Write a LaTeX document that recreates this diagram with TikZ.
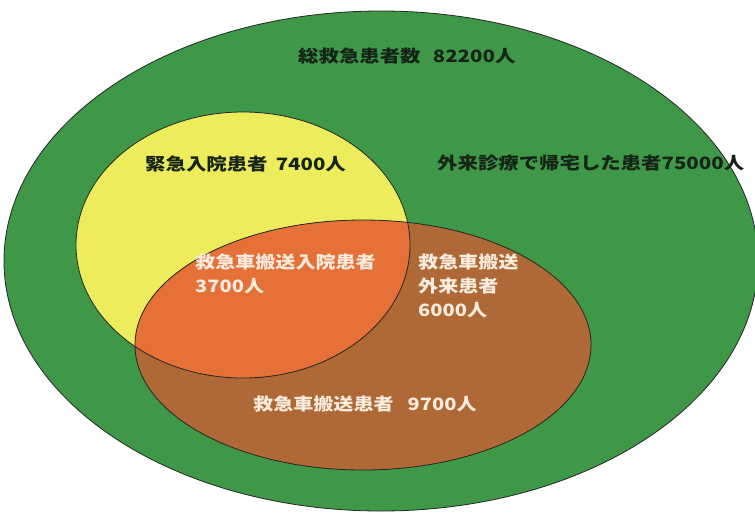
\documentclass[tikz,border=0pt]{standalone}
\usepackage{fontspec}
\newfontfamily\jp{Noto Sans CJK JP}
\definecolor{vgreen}{RGB}{62,152,72}
\definecolor{vyellow}{RGB}{236,236,92}
\definecolor{vbrown}{RGB}{174,105,54}
\definecolor{vorange}{RGB}{229,112,56}
\definecolor{darktext}{RGB}{22,36,24}
\definecolor{lighttext}{RGB}{250,236,222}
\begin{document}
\begin{tikzpicture}[x=1pt,y=-1pt,
  outline/.style={draw=black!85, line width=0.8pt},
  darklbl/.style={font=\jp\bfseries\fontsize{17}{24}\selectfont, text=darktext, inner sep=0pt, xscale=1.2},
  lightlbl/.style={font=\jp\bfseries\fontsize{17}{24}\selectfont, text=lighttext, inner sep=0pt, align=left, xscale=1.18}]
\useasboundingbox (0,0) rectangle (755,512);
\fill[white] (0,0) rectangle (755,512);
\coordinate (gc) at (381,261);
\coordinate (yc) at (243,245);
\coordinate (bc) at (363,345);
% fills
\fill[vgreen] (gc) ellipse [x radius=377pt, y radius=250pt];
\fill[vyellow] (yc) ellipse [x radius=167pt, y radius=133pt];
\fill[vbrown] (bc) ellipse [x radius=228pt, y radius=125pt];
\begin{scope}
  \clip (yc) ellipse [x radius=167pt, y radius=133pt];
  \fill[vorange] (bc) ellipse [x radius=228pt, y radius=125pt];
\end{scope}
% outlines
\draw[outline] (gc) ellipse [x radius=377pt, y radius=250pt];
\draw[outline] (yc) ellipse [x radius=167pt, y radius=133pt];
\draw[outline] (bc) ellipse [x radius=228pt, y radius=125pt];
% labels
\node[darklbl, anchor=base west] (total) at (298,62) {総救急患者数\hspace{0.6em}82200人};
\node[darklbl, anchor=base west] (emerg) at (145,170) {緊急入院患者\hspace{0.4em}7400人};
\node[darklbl, anchor=base west] (home) at (437,169) {外来診療で帰宅した患者75000人};
\node[lightlbl, anchor=base west] (ambin) at (195,292) {救急車搬送入院患者\\3700人};
\node[lightlbl, anchor=base west] (ambout) at (418,316) {救急車搬送\\外来患者\\6000人};
\node[lightlbl, anchor=base west] (amb) at (253,410) {救急車搬送患者\hspace{0.7em}9700人};
\end{tikzpicture}
\end{document}
